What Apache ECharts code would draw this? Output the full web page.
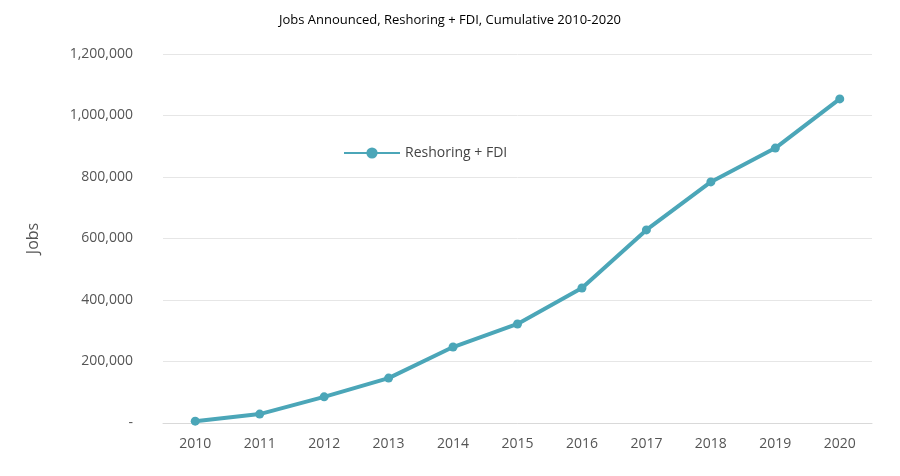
<!DOCTYPE html>
<html>
<head>
<meta charset="utf-8">
<script src="https://cdn.jsdelivr.net/npm/echarts@6/dist/echarts.min.js"></script>
<style>html,body{margin:0;padding:0;background:#fff;}#chart{width:900px;height:476px;}</style>
</head>
<body>
<div id="chart"></div>
<script>
// Jobs Announced, Reshoring + FDI
var years = ['2010', '2011', '2012', '2013', '2014', '2015', '2016', '2017', '2018', '2019', '2020'];
var jobs = [6000, 29000, 85000, 146000, 247000, 322000, 439000, 628000, 784000, 894000, 1054000];

var myChart = echarts.init(document.getElementById('chart'));
var option = {
    backgroundColor: '#fff',
    title: {
        text: 'Jobs Announced, Reshoring + FDI, Cumulative 2010-2020',
        left: 'center',
        top: 9,
        textStyle: { fontSize: 13, fontWeight: 'normal', color: '#000', fontFamily: 'Open Sans' }
    },
    legend: {
        left: 338,
        top: 141,
        itemWidth: 56,
        itemHeight: 14,
        textStyle: { fontSize: 14, color: '#444', fontFamily: 'Open Sans' },
        data: ['Reshoring + FDI']
    },
    grid: { left: 163, right: 28, top: 54, bottom: 53 },
    xAxis: {
        type: 'category',
        data: years,
        axisLine: { lineStyle: { color: '#d9d9d9' } },
        axisTick: { show: false },
        axisLabel: { fontSize: 14, color: '#555', margin: 14, fontFamily: 'Open Sans' }
    },
    yAxis: {
        type: 'value',
        min: 0,
        max: 1200000,
        interval: 200000,
        name: 'Jobs',
        nameLocation: 'middle',
        nameGap: 122,
        nameTextStyle: { fontSize: 16, color: '#555', fontFamily: 'Open Sans' },
        axisLine: { show: false },
        axisTick: { show: false },
        splitLine: { lineStyle: { color: '#e6e6e6' } },
        axisLabel: {
            fontSize: 14,
            color: '#555',
            margin: 30,
            fontFamily: 'Open Sans',
            formatter: function (v) { return v === 0 ? '-' : v.toLocaleString('en-US'); }
        }
    },
    series: [{
        name: 'Reshoring + FDI',
        type: 'line',
        data: jobs,
        symbol: 'circle',
        symbolSize: 9,
        lineStyle: { width: 4, color: '#4ba6b8' },
        itemStyle: { color: '#4ba6b8' },
        animation: false
    }]
};
myChart.setOption(option);
window.addEventListener('resize', function () { myChart.resize(); });
</script>
</body>
</html>
